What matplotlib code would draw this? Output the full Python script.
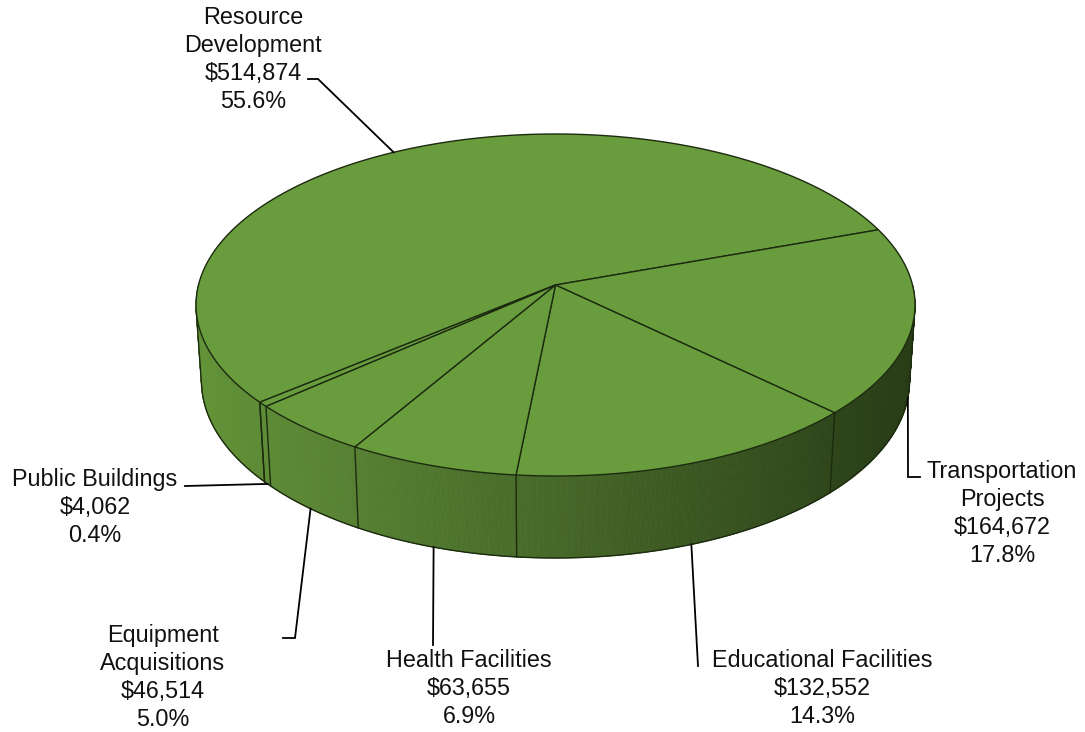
import numpy as np
import matplotlib
matplotlib.use("Agg")
import matplotlib.pyplot as plt
from matplotlib.collections import PolyCollection

# ---- data -------------------------------------------------------------
categories = ["Resource\nDevelopment", "Transportation\nProjects",
              "Educational Facilities", "Health Facilities",
              "Equipment\nAcquisitions", "Public Buildings"]
amounts = [514874, 164672, 132552, 63655, 46514, 4062]

# ---- styling / layout ---------------------------------------------------
W, H = 1085, 732
TOP_COLOR = "#699c3c"
EDGE_COLOR = "#1c2b10"
SIDE_LIGHT = np.array([99, 147, 57]) / 255
SIDE_DARK = np.array([40, 60, 22]) / 255
FONT = "Liberation Sans"
FONT_SIZE = 16.8
LINE_STEP = 28.0

START_DEG = 220.0          # first slice starts here and runs clockwise
BOX = (196.0, 915.0, 134.0, 476.0)   # top-face extent in pixels
CENTER_SHIFT = 0.117       # perspective shift of the hub relative to half height
FRONT_DEPTH_PX = 82.0      # wall height at the front

# label block centres and leader elbows (pixels)
label_xy = [(253, 57.5), (1002, 512), (822, 687), (469, 687), (163, 676), (95, 505.5)]
leader_paths = [
    [(318, 79), (308, 79)],
    [(908, 477), (920, 477)],
    [(698, 666)],
    [(433, 645)],
    [(295, 638), (283, 638)],
    [(185, 486)],
]
leader_on_top = [True, False, False, False, False, False]

# ---- perspective model of the disc -------------------------------------
def make_proj(elev, dist):
    c, s = np.cos(elev), np.sin(elev)

    def proj(x, y, z):
        depth = y * c - z * s + dist
        return x / depth, (y * s + z * c) / depth, depth
    return proj


tt = np.linspace(0, 2 * np.pi, 2001)


def aspect_for(elev):
    dist = np.cos(elev) / CENTER_SHIFT
    u, v, _ = make_proj(elev, dist)(np.cos(tt), np.sin(tt), 0 * tt)
    return (v.max() - v.min()) / (u.max() - u.min())


target = (BOX[3] - BOX[2]) / (BOX[1] - BOX[0])
lo, hi = 0.05, 1.4
for _ in range(60):
    mid = 0.5 * (lo + hi)
    if aspect_for(mid) < target:
        lo = mid
    else:
        hi = mid
ELEV = 0.5 * (lo + hi)
DIST = np.cos(ELEV) / CENTER_SHIFT
proj = make_proj(ELEV, DIST)

u, v, _ = proj(np.cos(tt), np.sin(tt), 0 * tt)
K = (BOX[1] - BOX[0]) / (u.max() - u.min())
X0 = BOX[0] - K * u.min()
Y0 = BOX[2] + K * v.max()


def to_px(x, y, z):
    uu, vv, dd = proj(x, y, z)
    return X0 + K * uu, Y0 - K * vv, dd


# wall thickness so that the front wall has the wanted height
lo, hi = 0.0, 1.0
for _ in range(60):
    mid = 0.5 * (lo + hi)
    _, y_top, _ = to_px(0.0, -1.0, 0.0)
    _, y_bot, _ = to_px(0.0, -1.0, -mid)
    if y_bot - y_top < FRONT_DEPTH_PX:
        lo = mid
    else:
        hi = mid
THICK = 0.5 * (lo + hi)


def rim(t, z=0.0):
    return to_px(np.cos(t), np.sin(t), z + 0 * np.asarray(t, dtype=float))


# ---- figure -----------------------------------------------------------
fig = plt.figure(figsize=(W / 100, H / 100), dpi=100)
ax = fig.add_axes([0, 0, 1, 1])
ax.set_xlim(0, W)
ax.set_ylim(H, 0)
ax.axis("off")

total = float(sum(amounts))
fracs = [a / total for a in amounts]
bounds = [np.radians(START_DEG)]
for f in fracs:
    bounds.append(bounds[-1] - 2 * np.pi * f)

# side wall: thin strips painted back to front
vis_lim = np.arcsin(1.0 / (DIST * np.cos(ELEV)))
ts = np.linspace(-np.pi, 0.0, 721)
quads, colors, depths = [], [], []
for a, b in zip(ts[:-1], ts[1:]):
    xa, ya, da = rim(a)
    xb, yb, db = rim(b)
    xa2, ya2, _ = rim(a, -THICK)
    xb2, yb2, _ = rim(b, -THICK)
    quads.append([(xa, ya), (xb, yb), (xb2, yb2), (xa2, ya2)])
    fx = np.clip(((xa + xb) / 2 - BOX[0]) / (BOX[1] - BOX[0]), 0, 1)
    colors.append(tuple(SIDE_LIGHT + (SIDE_DARK - SIDE_LIGHT) * fx))
    depths.append((da + db) / 2)
order = np.argsort(depths)[::-1]
ax.add_collection(PolyCollection([quads[i] for i in order],
                                 facecolors=[colors[i] for i in order],
                                 edgecolors=[colors[i] for i in order],
                                 linewidths=0.6, zorder=1))

# wall outline: lower rim and silhouettes
tv = np.linspace(-np.pi + vis_lim, -vis_lim, 400)
bx, by, _ = rim(tv, -THICK)
ax.plot(bx, by, color=EDGE_COLOR, lw=1.0, zorder=3)
for t in (-np.pi + vis_lim, -vis_lim):
    x1, y1, _ = rim(t)
    x2, y2, _ = rim(t, -THICK)
    ax.plot([x1, x2], [y1, y2], color=EDGE_COLOR, lw=1.0, zorder=3)

# slice seams on the wall
for bnd in bounds:
    if np.sin(bnd) < -1.0 / (DIST * np.cos(ELEV)):
        x1, y1, _ = rim(bnd)
        x2, y2, _ = rim(bnd, -THICK)
        ax.plot([x1, x2], [y1, y2], color=EDGE_COLOR, lw=1.0, zorder=3)

# top face slices
cx, cy, _ = to_px(0.0, 0.0, 0.0)
for a0, a1 in zip(bounds[:-1], bounds[1:]):
    n = max(int(abs(a0 - a1) / np.radians(0.5)), 2)
    arc = np.linspace(a0, a1, n)
    ex, ey, _ = rim(arc)
    pts = [(cx, cy)] + list(zip(ex, ey))
    ax.add_patch(plt.Polygon(pts, closed=True, facecolor=TOP_COLOR,
                             edgecolor=EDGE_COLOR, lw=1.0, zorder=4,
                             joinstyle="round"))

# labels with leader lines
for i, (name, amt, f) in enumerate(zip(categories, amounts, fracs)):
    lines = name.split("\n") + [f"${amt:,}", f"{100 * f:.1f}%"]
    lx, ly = label_xy[i]
    n = len(lines)
    for j, s in enumerate(lines):
        yc = ly + (j - (n - 1) / 2) * LINE_STEP
        ax.text(lx, yc + 8.3, s, ha="center", va="baseline",
                fontsize=FONT_SIZE, family=FONT, color="#111111", zorder=6)
    mid = 0.5 * (bounds[i] + bounds[i + 1])
    sx, sy, _ = rim(mid, 0.0 if leader_on_top[i] else -THICK)
    path = [(sx, sy)] + leader_paths[i]
    px, py = zip(*path)
    ax.plot(px, py, color="black", lw=1.3, zorder=5, solid_joinstyle="miter")

fig.savefig("out.png", dpi=100, facecolor="white")
